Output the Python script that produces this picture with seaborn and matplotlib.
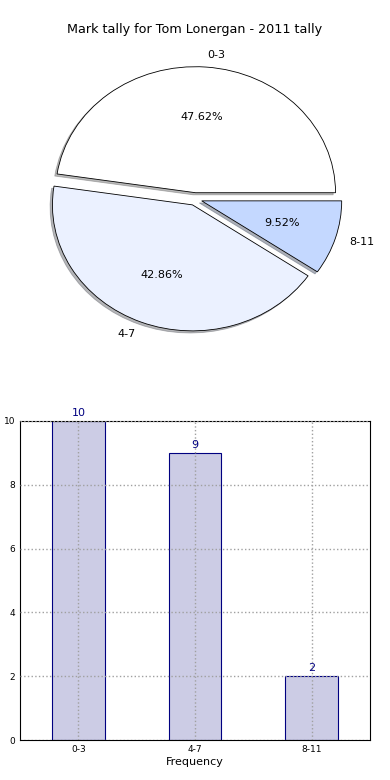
import matplotlib
matplotlib.use("Agg")
import matplotlib.pyplot as plt
import seaborn as sns
import pandas as pd

categories = ["0-3", "4-7", "8-11"]
counts = [10, 9, 2]
pie_colors = ["#FFFFFF", "#EBF1FF", "#C4D8FF"]
yticks = [0, 2, 4, 6, 8, 10]
title = "Mark tally for Tom Lonergan - 2011 tally"

sns.set_style("white")
plt.rcParams["font.family"] = ["DejaVu Sans"]
plt.rcParams.update({"text.color": "black", "axes.labelcolor": "black",
                     "xtick.color": "black", "ytick.color": "black"})

fig = plt.figure(figsize=(3.9, 7.8), dpi=100)

# Pie
ax1 = fig.add_axes([20 / 390, (780 - 356.5) / 780, 350 / 390, 315 / 780])
wedges, texts, autotexts = ax1.pie(
    counts, labels=categories, colors=pie_colors, explode=[0.05, 0.05, 0.05],
    autopct="%.2f%%", shadow=dict(ox=-0.012, oy=-0.012, shade=0.55),
    startangle=0, labeldistance=1.1,
    wedgeprops=dict(edgecolor="black", linewidth=0.6),
    textprops=dict(fontsize=8, color="black"),
)
ax1.set_aspect("auto")
ax1.set_xlim(-1.25, 1.25)
ax1.set_ylim(-1.25, 1.25)
ax1.axis("off")
ax1.set_title(title, fontsize=9.2, pad=6, color="black")

# Bar
ax2 = fig.add_axes([20 / 390, 40 / 780, 350 / 390, 319 / 780])
df = pd.DataFrame({"Frequency": categories, "Count": counts})
sns.barplot(data=df, x="Frequency", y="Count", ax=ax2, width=0.45,
            color=(0, 0, 0.5, 0.2), edgecolor="navy", linewidth=0.8,
            saturation=1)
for p, c in zip(ax2.patches, counts):
    ax2.text(p.get_x() + p.get_width() / 2, p.get_height() + 0.1, str(c),
             ha="center", va="bottom", fontsize=8, color="navy")
ax2.set_xlim(-0.5, 2.5)
ax2.set_ylim(0, 10)
ax2.set_yticks(yticks)
ax2.grid(True, linestyle=":", color="#a0a0a0", linewidth=1.0)
ax2.set_axisbelow(False)
for s in ax2.spines.values():
    s.set_visible(True)
    s.set_color("black")
    s.set_linewidth(0.8)
ax2.tick_params(labelsize=6.5, length=2, width=0.5, direction="out", pad=1.5)
ax2.set_xlabel("Frequency", fontsize=8, labelpad=2)
ax2.set_ylabel("Student Count", fontsize=7, labelpad=10)

fig.savefig("out.png", dpi=100)
